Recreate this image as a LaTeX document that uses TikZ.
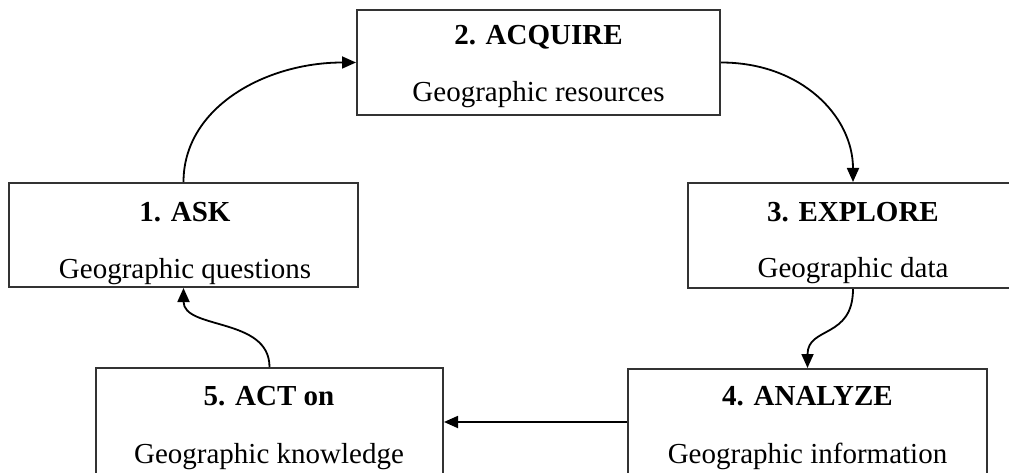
\documentclass[tikz,border=0pt]{standalone}
\usepackage{fontspec}
\setmainfont{Liberation Serif}
\usetikzlibrary{arrows.meta}
\begin{document}
\begin{tikzpicture}[x=1pt,y=-1pt,
  stagebox/.style={draw=black!80,line width=2pt,rectangle,inner sep=0pt},
  ttl/.style={anchor=base,inner sep=0pt,font=\fontsize{29}{34}\selectfont\bfseries},
  sub/.style={anchor=base,inner sep=0pt,font=\fontsize{29}{34}\selectfont},
  conn/.style={line width=1.8pt,-{Triangle[length=14pt,width=12pt]}}]
\useasboundingbox (0,0) rectangle (1009,473);
\clip (0,0) rectangle (1009,473);
\node[stagebox,minimum width=349pt,minimum height=104pt] (b1) at (183.5,235) {};
\node[stagebox,minimum width=363pt,minimum height=105pt] (b2) at (538.5,62.5) {};
\node[stagebox,minimum width=330pt,minimum height=105pt] (b3) at (853,235.5) {};
\node[stagebox,minimum width=359pt,minimum height=106pt] (b4) at (807.5,422) {};
\node[stagebox,minimum width=347pt,minimum height=108pt] (b5) at (269.5,422) {};
\node[ttl] (t1) at (185,222) {1. ASK};
\node[sub] (s1) at (185,278) {Geographic questions};
\node[ttl] (t2) at (538.5,45) {2. ACQUIRE};
\node[sub] (s2) at (538.5,102) {Geographic resources};
\node[ttl] (t3) at (853,222) {3. EXPLORE};
\node[sub] (s3) at (853,277) {Geographic data};
\node[ttl] (t4) at (807.5,405) {4. ANALYZE};
\node[sub] (s4) at (807.5,463) {Geographic information};
\node[ttl] (t5) at (269,405) {5. ACT on};
\node[sub] (s5) at (269,463) {Geographic knowledge};
\draw[conn] (b1.north) .. controls +(0,-75) and +(-90,0) .. (b2.west);
\draw[conn] (b2.east) .. controls +(80,0) and +(0,-66) .. (b3.north);
\draw[conn] (b3.south) .. controls +(0,50) and +(0,-42) .. (b4.north);
\draw[conn] (b4.west) -- (b5.east);
\draw[conn] (b5.north) .. controls +(0,-50) and +(0,42) .. (b1.south);
\end{tikzpicture}
\end{document}
